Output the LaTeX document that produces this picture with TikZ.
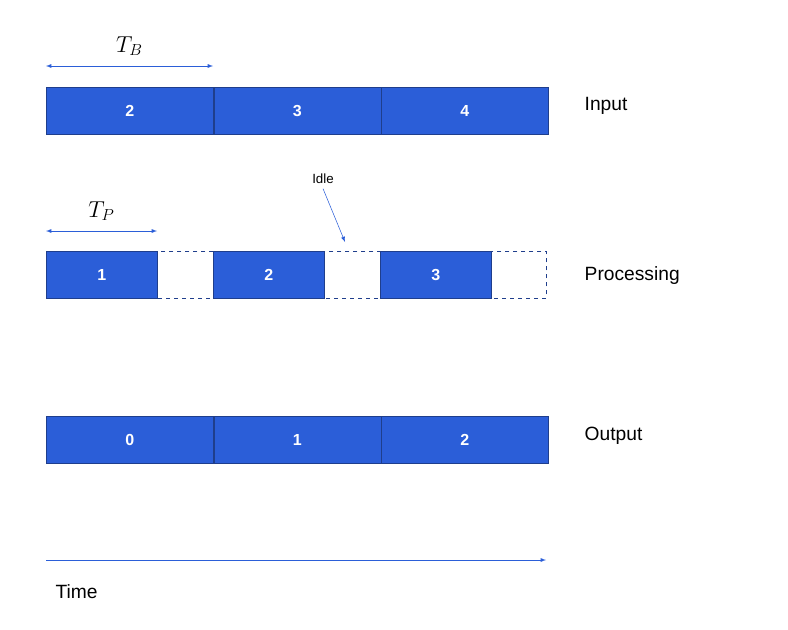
\documentclass[tikz,border=0pt]{standalone}
\usepackage{fontspec}
\setmainfont{Liberation Sans}
\usepackage{amsmath}
\usetikzlibrary{positioning}
\definecolor{slotblue}{HTML}{2B5ED8}
\definecolor{slotedge}{HTML}{1F3E8C}
\begin{document}
\begin{tikzpicture}[>=latex,x=0.75pt,y=-0.75pt]
        \tikzstyle{slot} = [draw=slotedge, fill=slotblue, rectangle, text=white,
            minimum height=35.25pt, font=\large\bfseries, inner sep=0pt]
        \tikzstyle{rowLabel} = [anchor=west, font=\Large];
        \tikzstyle{spanEdge} = [slotblue, <->];
        \useasboundingbox (0,0) rectangle (788,629);
        % input
        \node[slot, minimum width=125.25pt, anchor=north west] (in2) at (46,87) {2};
        \node[slot, minimum width=125.25pt, right=0pt of in2] (in3) {3};
        \node[slot, minimum width=125.25pt, right=0pt of in3] (in4) {4};
        \node[rowLabel] (labIn) at (580,106) {Input};
        % processing
        \node[draw=slotedge, dashed, rectangle, minimum width=375pt,
            minimum height=35.25pt, anchor=north west] (proc) at (46,251) {};
        \node[slot, minimum width=83.25pt, anchor=north west] (pr1) at (46,251) {1};
        \node[slot, minimum width=83.25pt, anchor=north west] (pr2) at (213,251) {2};
        \node[slot, minimum width=83.25pt, anchor=north west] (pr3) at (380,251) {3};
        \node[rowLabel] (labProc) at (580,276) {Processing};
        % output
        \node[slot, minimum width=125.25pt, anchor=north west] (out0) at (46,416) {0};
        \node[slot, minimum width=125.25pt, right=0pt of out0] (out1) {1};
        \node[slot, minimum width=125.25pt, right=0pt of out1] (out2) {2};
        \node[rowLabel] (labOut) at (580,436) {Output};
        % spans
        \coordinate (tbA) at (46,66);
        \coordinate (tbB) at (213,66);
        \draw[spanEdge] (tbA) -- node[above=4pt, black, font=\LARGE]{$T_B$} (tbB);
        \coordinate (tpA) at (46,231);
        \coordinate (tpB) at (157,231);
        \draw[spanEdge] (tpA) -- node[above=4pt, black, font=\LARGE]{$T_P$} (tpB);
        % idle
        \node (idle) at (323,179) {Idle};
        \coordinate (idleTip) at (345,242);
        \draw[slotblue, ->] (idle.south) -- (idleTip);
        % time
        \coordinate (t0) at (46,560);
        \coordinate (t1) at (546,560);
        \draw[slotblue, ->] (t0) -- (t1);
        \node[rowLabel] (labTime) at (51,592) {Time};
\end{tikzpicture}
\end{document}
